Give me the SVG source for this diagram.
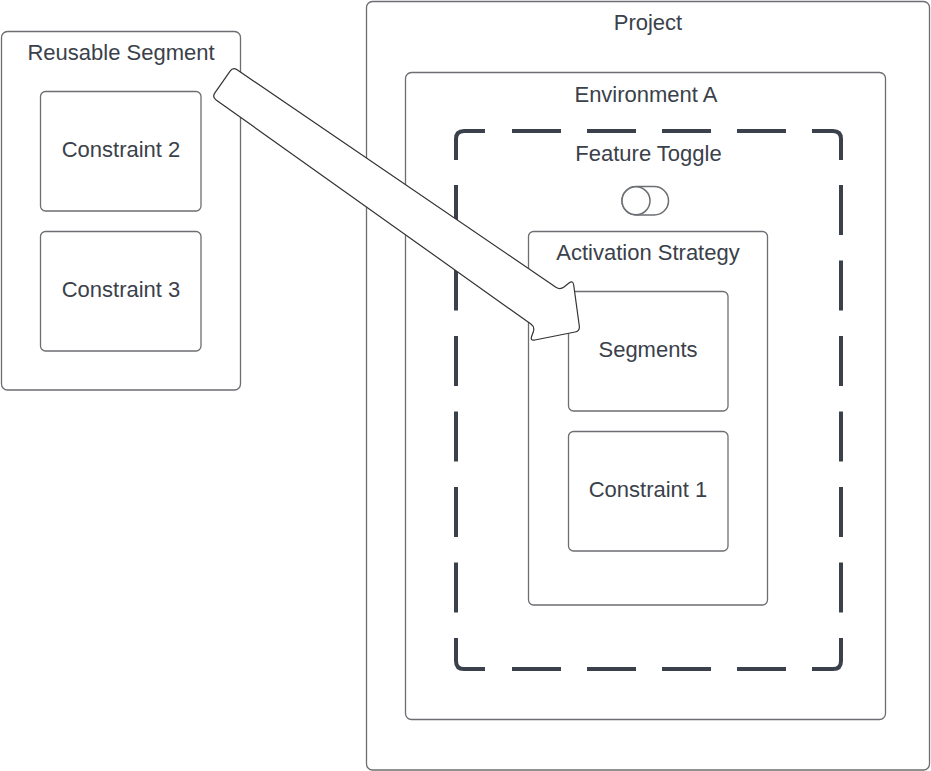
<svg xmlns="http://www.w3.org/2000/svg" width="931" height="771" viewBox="0 0 931 771">
<style>
.box{fill:#ffffff;stroke:#6b6e72;stroke-width:1.3}
.lbl{font-family:"Liberation Sans",Arial,sans-serif;font-size:22px;fill:#3a414a;text-anchor:middle}
.dash{fill:none;stroke:#3a414a;stroke-width:4}
.arrow{fill:#ffffff;stroke:#333333;stroke-width:1.2;stroke-linejoin:round}
</style>
<rect width="931" height="771" fill="#ffffff"/>
<g id="project">
<rect class="box" x="366.5" y="1.5" width="563" height="768.5" rx="6"/>
<text class="lbl" x="648" y="29.5">Project</text>
</g>
<g id="environment-a">
<rect class="box" x="405.5" y="72.5" width="480" height="647" rx="6"/>
<text class="lbl" x="646" y="102">Environment A</text>
</g>
<g id="feature-toggle">
<path class="dash" d="M456,160 V139 Q456,131 464,131 H485"/>
<path class="dash" d="M812,131 H833 Q841,131 841,139 V160"/>
<path class="dash" d="M841,638 V661 Q841,669 833,669 H812"/>
<path class="dash" d="M485,669 H464 Q456,669 456,661 V638"/>
<line class="dash" x1="512" y1="131" x2="786" y2="131" stroke-dasharray="49 26"/>
<line class="dash" x1="512" y1="669" x2="786" y2="669" stroke-dasharray="49 26"/>
<line class="dash" x1="456" y1="185" x2="456" y2="612.5" stroke-dasharray="50 25.5"/>
<line class="dash" x1="841" y1="185" x2="841" y2="612.5" stroke-dasharray="50 25.5"/>
<text class="lbl" x="648.5" y="161">Feature Toggle</text>
<rect x="622" y="186.5" width="46.5" height="28.5" rx="14.25" fill="#ffffff" stroke="#6b6e72" stroke-width="1.5"/>
<circle cx="636" cy="200.75" r="14" fill="#ffffff" stroke="#6b6e72" stroke-width="1.5"/>
</g>
<g id="activation-strategy">
<rect class="box" x="528.5" y="231.5" width="239" height="373.5" rx="5"/>
<text class="lbl" x="648" y="260">Activation Strategy</text>
</g>
<g id="segments">
<rect class="box" x="568.5" y="291.5" width="159.5" height="119.5" rx="5"/>
<text class="lbl" x="648" y="357">Segments</text>
</g>
<g id="constraint-1">
<rect class="box" x="568.5" y="431.5" width="159.5" height="119.5" rx="5"/>
<text class="lbl" x="648" y="497">Constraint 1</text>
</g>
<g id="reusable-segment">
<rect class="box" x="1.5" y="31.5" width="239" height="358.5" rx="6"/>
<text class="lbl" x="121" y="60">Reusable Segment</text>
</g>
<g id="constraint-2">
<rect class="box" x="40.5" y="91.5" width="160.5" height="119.5" rx="5"/>
<text class="lbl" x="121" y="157">Constraint 2</text>
</g>
<g id="constraint-3">
<rect class="box" x="40.5" y="231.5" width="160.5" height="119.5" rx="5"/>
<text class="lbl" x="121" y="297">Constraint 3</text>
</g>
<g id="connectors">
<path class="arrow" d="M216.1,99.9 Q212,97 214.9,92.9 L230.1,71.1 Q233,67 237.1,69.8 L555.9,287.2 Q560,290 564,287 L569,283 Q573,280 573.7,285 L579.3,326 Q580,331 575.1,332 L534.9,340 Q530,341 531.7,336.3 L533.3,331.7 Q535,327 530.9,324.1 Z"/>
</g>
</svg>
